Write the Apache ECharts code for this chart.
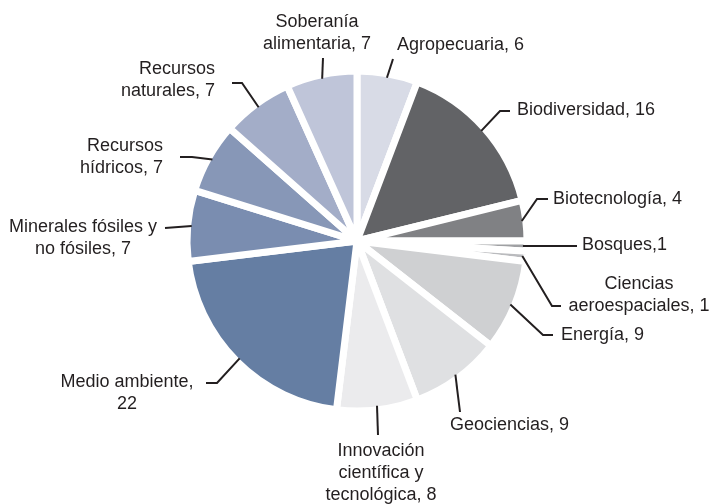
<!DOCTYPE html>
<html>
<head>
<meta charset="utf-8">
<script src="https://cdn.jsdelivr.net/npm/echarts@6/dist/echarts.min.js"></script>
<style>
  html, body { margin: 0; padding: 0; background: #ffffff; }
  #chart { width: 711px; height: 504px; }
</style>
</head>
<body>
<div id="chart"></div>
<script>
// ---- Data ----
const categories = [
  'Agropecuaria', 'Biodiversidad', 'Biotecnología', 'Bosques',
  'Ciencias aeroespaciales', 'Energía', 'Geociencias',
  'Innovación científica y tecnológica', 'Medio ambiente',
  'Minerales fósiles y no fósiles', 'Recursos hídricos',
  'Recursos naturales', 'Soberanía alimentaria'
];
const values = [6, 16, 4, 1, 1, 9, 9, 8, 22, 7, 7, 7, 7];
const labelTexts = [
  'Agropecuaria, 6', 'Biodiversidad, 16', 'Biotecnología, 4', 'Bosques,1',
  'Ciencias\naeroespaciales, 1', 'Energía, 9', 'Geociencias, 9',
  'Innovación\ncientífica y\ntecnológica, 8', 'Medio ambiente,\n22',
  'Minerales fósiles y\nno fósiles, 7', 'Recursos\nhídricos, 7',
  'Recursos\nnaturales, 7', 'Soberanía\nalimentaria, 7'
];

// ---- Styles ----
const colors = [
  '#d8dbe6', '#626366', '#808184', '#9fa0a3', '#babbbe', '#cfd0d2',
  '#dfe0e2', '#ebebed', '#657ea3', '#7a8db0', '#8797b7', '#a3adc8', '#bfc5d9'
];
const CX = 357, CY = 241, R = 170;

// label placement (text anchor, alignment, leader elbow points)
const labelPlacement = [
  { x: 397, y: 45,  align: 'left',   pts: [[393, 59]] },
  { x: 517, y: 110, align: 'left',   pts: [[500, 111], [510, 111]] },
  { x: 553, y: 199, align: 'left',   pts: [[537, 199], [548, 199]] },
  { x: 582, y: 245, align: 'left',   pts: [[577, 246]] },
  { x: 639, y: 295, align: 'center', pts: [[552, 306], [561, 306]] },
  { x: 561, y: 335, align: 'left',   pts: [[543, 335], [553, 335]] },
  { x: 450, y: 425, align: 'left',   pts: [[460, 412]] },
  { x: 381, y: 473, align: 'center', pts: [[378, 435]] },
  { x: 127, y: 393, align: 'center', pts: [[217, 383], [206, 383]] },
  { x: 83,  y: 238, align: 'center', pts: [[165, 228]] },
  { x: 163, y: 157, align: 'right',  pts: [[192, 157], [180, 157]] },
  { x: 215, y: 80,  align: 'right',  pts: [[242, 83], [232, 83]] },
  { x: 317, y: 33,  align: 'center', pts: [[323, 58]] }
];

const total = values.reduce((a, b) => a + b, 0);
function edgePoint(i) {
  let before = 0;
  for (let k = 0; k < i; k++) before += values[k];
  const mid = before + values[i] / 2;
  const ang = (90 - mid / total * 360) * Math.PI / 180;
  const r = R - 4;
  return [CX + r * Math.cos(ang), CY - r * Math.sin(ang)];
}

const leaderLines = values.map((v, i) => ({
  type: 'polyline',
  z: 100,
  silent: true,
  shape: { points: [edgePoint(i)].concat(labelPlacement[i].pts) },
  style: { stroke: '#231f20', lineWidth: 2, fill: null }
}));

const chart = echarts.init(document.getElementById('chart'), null, { renderer: 'canvas' });
chart.setOption({
  backgroundColor: '#ffffff',
  animation: false,
  graphic: { elements: leaderLines },
  series: [{
    type: 'pie',
    center: [CX, CY],
    radius: [0, R],
    startAngle: 90,
    clockwise: true,
    avoidLabelOverlap: false,
    itemStyle: { borderColor: '#ffffff', borderWidth: 7 },
    label: {
      show: true,
      position: 'outside',
      color: '#231f20',
      fontFamily: 'Liberation Sans, Arial, sans-serif',
      fontSize: 18,
      lineHeight: 22,
      formatter: p => labelTexts[p.dataIndex]
    },
    labelLine: { show: false },
    labelLayout: function (params) {
      const i = params.dataIndex;
      const lp = labelPlacement[i];
      return {
        x: lp.x,
        y: lp.y,
        align: lp.align,
        verticalAlign: 'middle'
      };
    },
    emphasis: { disabled: true },
    data: categories.map((c, i) => ({
      name: c,
      value: values[i],
      itemStyle: { color: colors[i] },
      label: { textAlign: labelPlacement[i].align }
    }))
  }]
});
</script>
</body>
</html>
